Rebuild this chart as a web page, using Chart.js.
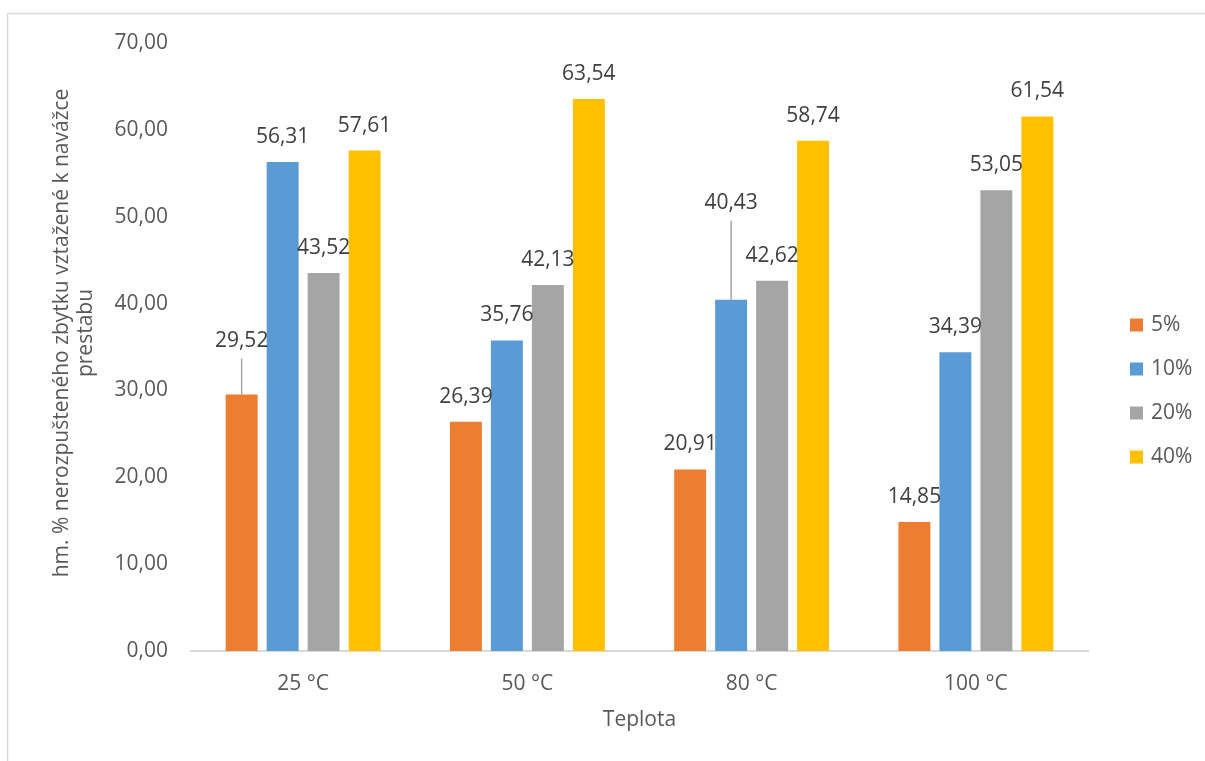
<!DOCTYPE html>
<html>
<head>
<meta charset="utf-8">
<script src="https://cdn.jsdelivr.net/npm/chart.js@4.4.1/dist/chart.umd.min.js"></script>
<style>
  html, body { margin: 0; padding: 0; background: #fff; }
  canvas { display: block; }
</style>
</head>
<body>
<canvas id="chart" width="1205" height="761"></canvas>
<script>
const categories = ['25 °C', '50 °C', '80 °C', '100 °C'];
const seriesNames = ['5%', '10%', '20%', '40%'];
const values5 = [29.52, 26.39, 20.91, 14.85];
const values10 = [56.31, 35.76, 40.43, 34.39];
const values20 = [43.52, 42.13, 42.62, 53.05];
const values40 = [57.61, 63.54, 58.74, 61.54];
const yMin = 0;
const yMax = 70;
const yStep = 10;
const yTitleLines = ['hm. % nerozpušteného zbytku vztažené k navážce', 'prestabu'];
const xTitle = 'Teplota';

const colors = ['#ED7D31', '#5B9BD5', '#A5A5A5', '#FFC000'];
const textColor = '#595959';
const fontFamily = '"Open Sans", "Noto Sans", sans-serif';
const fontSize = 21;

// labels that were dragged up and hang on a leader line (extra px above the default spot)
const labelLift = { '0:0': 29, '1:2': 72 };

const fmt = (v) => v.toFixed(2).replace('.', ',');

const frame = {
    id: 'frame',
    beforeDraw(chart) {
        const ctx = chart.ctx;
        ctx.save();
        ctx.fillStyle = '#fff';
        ctx.fillRect(0, 0, chart.width, chart.height);
        ctx.strokeStyle = '#D9D9D9';
        ctx.lineWidth = 1.5;
        ctx.strokeRect(7.5, 13.5, chart.width + 20, chart.height + 20);
        ctx.restore();
    }
};

const valueLabels = {
    id: 'valueLabels',
    afterDatasetsDraw(chart) {
        const ctx = chart.ctx;
        ctx.save();
        ctx.font = fontSize + 'px ' + fontFamily;
        ctx.textAlign = 'center';
        ctx.textBaseline = 'middle';
        chart.data.datasets.forEach((ds, di) => {
            const meta = chart.getDatasetMeta(di);
            meta.data.forEach((bar, i) => {
                const lift = labelLift[di + ':' + i] || 0;
                const y = bar.y - 25 - lift;
                if (lift) {
                    ctx.strokeStyle = '#A6A6A6';
                    ctx.lineWidth = 1.5;
                    ctx.beginPath();
                    ctx.moveTo(bar.x, y + 18);
                    ctx.lineTo(bar.x, bar.y);
                    ctx.stroke();
                }
                ctx.fillStyle = '#404040';
                ctx.fillText(fmt(ds.data[i]), bar.x, y);
            });
        });
        ctx.restore();
    }
};

const titlesAndLegend = {
    id: 'titlesAndLegend',
    afterDraw(chart) {
        const ctx = chart.ctx;
        const area = chart.chartArea;
        ctx.save();
        ctx.font = fontSize + 'px ' + fontFamily;
        ctx.fillStyle = textColor;
        ctx.textAlign = 'center';
        ctx.textBaseline = 'middle';

        // y axis title, two rotated lines
        ctx.save();
        ctx.translate(62, (area.top + area.bottom) / 2 - 14);
        ctx.rotate(-Math.PI / 2);
        yTitleLines.forEach((line, i) => ctx.fillText(line, 0, i * 24));
        ctx.restore();

        // x axis title
        ctx.fillText(xTitle, (area.left + area.right) / 2, 720);

        // legend on the right
        ctx.textAlign = 'left';
        const pitch = 44;
        const top = 391 - pitch * (chart.data.datasets.length - 1) / 2;
        chart.data.datasets.forEach((ds, i) => {
            const y = top + i * pitch;
            ctx.fillStyle = ds.backgroundColor;
            ctx.fillRect(1130, y - 6.5, 13, 13);
            ctx.fillStyle = textColor;
            ctx.fillText(ds.label, 1151, y);
        });
        ctx.restore();
    }
};

const seriesValues = [values5, values10, values20, values40];

new Chart(document.getElementById('chart'), {
    type: 'bar',
    data: {
        labels: categories,
        datasets: seriesNames.map((name, i) => ({
            label: name,
            data: seriesValues[i],
            backgroundColor: colors[i],
            borderWidth: 0,
            categoryPercentage: 0.731,
            barPercentage: 0.78
        }))
    },
    options: {
        responsive: false,
        animation: false,
        devicePixelRatio: 1,
        layout: {
            padding: { left: 7, top: 43, right: 117, bottom: 0 }
        },
        plugins: {
            legend: { display: false },
            tooltip: { enabled: false }
        },
        scales: {
            x: {
                grid: { display: false, drawTicks: false },
                border: { display: true, color: '#D9D9D9', width: 2 },
                ticks: {
                    color: textColor,
                    font: { family: fontFamily, size: fontSize },
                    padding: 20
                },
                afterFit(scale) { scale.height = 110; }
            },
            y: {
                min: yMin,
                max: yMax,
                grid: { display: false, drawTicks: false },
                border: { display: false },
                ticks: {
                    stepSize: yStep,
                    color: textColor,
                    font: { family: fontFamily, size: fontSize },
                    padding: 23,
                    callback: (v) => fmt(v)
                },
                afterFit(scale) { scale.width = 184; }
            }
        }
    },
    plugins: [frame, valueLabels, titlesAndLegend]
});
</script>
</body>
</html>
